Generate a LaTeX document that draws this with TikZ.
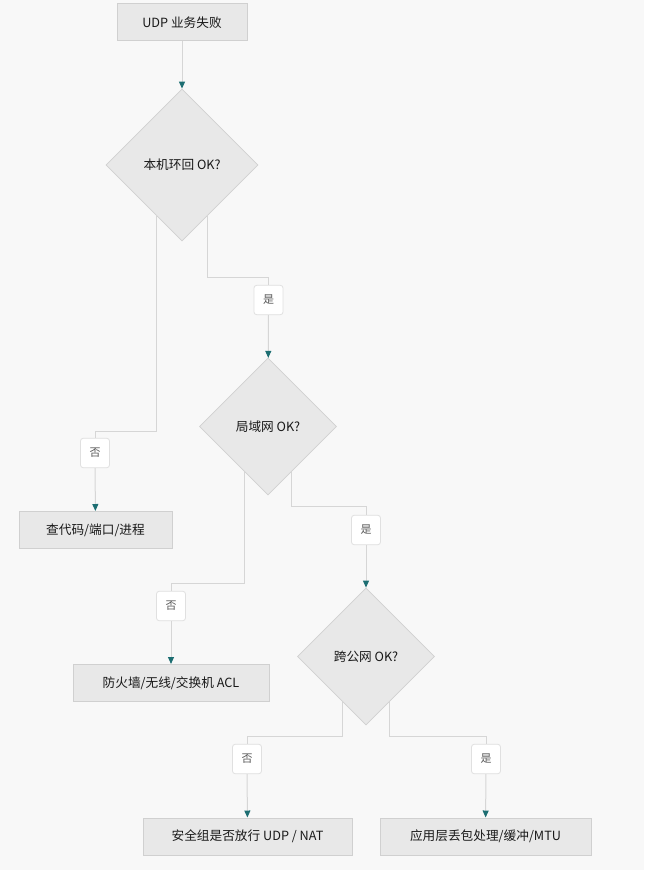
\documentclass[tikz,border=0pt]{standalone}
\usepackage{fontspec}
\setmainfont{Noto Sans CJK SC}
\usepackage{tikz}
\usetikzlibrary{shapes.geometric,arrows.meta,positioning,calc}
\definecolor{bgc}{HTML}{F8F8F8}
\definecolor{boxc}{HTML}{E8E8E8}
\definecolor{rimc}{HTML}{D0D0D0}
\definecolor{wirec}{HTML}{D6D6D6}
\definecolor{tipc}{HTML}{1D6E72}
\tikzset{
block/.style = {draw=rimc, fill=boxc, rectangle, line width=0.75pt, minimum height=27.75pt, inner xsep=6pt, font=\fontsize{9.5}{11}\selectfont, text=black!90},
decision/.style = {draw=rimc, fill=boxc, diamond, line width=0.6pt, inner sep=0pt, font=\fontsize{9.5}{11}\selectfont, text=black!90},
tag/.style = {draw=black!12, fill=white, rectangle, rounded corners=2pt, line width=0.6pt, minimum width=21.75pt, minimum height=22pt, inner sep=0pt, font=\fontsize{8.25}{9}\selectfont, text=black!65},
wire/.style = {draw=wirec, line width=0.75pt},
arr/.style = {wire, -{Triangle[color=tipc, length=5.25pt, width=4.5pt]}}
}
\begin{document}
\begin{tikzpicture}[x=0.75pt, y=-0.75pt]
        \fill [bgc] (0,0) rectangle (644,870);
        \useasboundingbox (0,0) rectangle (644,870);
        % boxes and decisions
        \node [block, minimum width=97.5pt] (fail) at (182,22.5) {UDP 业务失败};
        \node [decision, minimum width=114pt, minimum height=114pt] (loop) at (182,165) {本机环回 OK?};
        \node [block, minimum width=114.75pt] (code) at (95.5,530) {查代码/端口/进程};
        \node [decision, minimum width=102.75pt, minimum height=102.75pt] (lan) at (268,426.5) {局域网 OK?};
        \node [block, minimum width=147pt] (acl) at (171,683) {防火墙/无线/交换机 ACL};
        \node [decision, minimum width=102.75pt, minimum height=102.75pt] (wan) at (366,656.5) {跨公网 OK?};
        \node [block, minimum width=156.75pt] (nat) at (247.5,836.5) {安全组是否放行 UDP / NAT};
        \node [block, minimum width=158.25pt] (app) at (485.5,836.5) {应用层丢包处理/缓冲/MTU};
        % branch labels
        \node [tag] (yes1) at (268.5,300) {是};
        \node [tag] (no1) at (95,453) {否};
        \node [tag] (yes2) at (366,530) {是};
        \node [tag] (no2) at (171,606) {否};
        \node [tag] (no3) at (247,759) {否};
        \node [tag] (yes3) at (486,759) {是};
        % connectors
        \draw [arr] (fail) -- (loop);
        \draw [wire] ($(loop.south)!0.34!(loop.east)$) -- ++(0,62) -| (yes1.north);
        \draw [arr] (yes1) -- (lan);
        \draw [wire] ($(loop.south)!0.34!(loop.west)$) -- ++(0,216) -| (no1.north);
        \draw [arr] (no1) -- (code);
        \draw [wire] ($(lan.south)!0.34!(lan.east)$) -- ++(0,35) -| (yes2.north);
        \draw [arr] (yes2) -- (wan);
        \draw [wire] ($(lan.south)!0.34!(lan.west)$) -- ++(0,112) -| (no2.north);
        \draw [arr] (no2) -- (acl);
        \draw [wire] ($(wan.south)!0.34!(wan.west)$) -- ++(0,35) -| (no3.north);
        \draw [arr] (no3) -- (nat);
        \draw [wire] ($(wan.south)!0.34!(wan.east)$) -- ++(0,35) -| (yes3.north);
        \draw [arr] (yes3) -- (app);
\end{tikzpicture}
\end{document}
